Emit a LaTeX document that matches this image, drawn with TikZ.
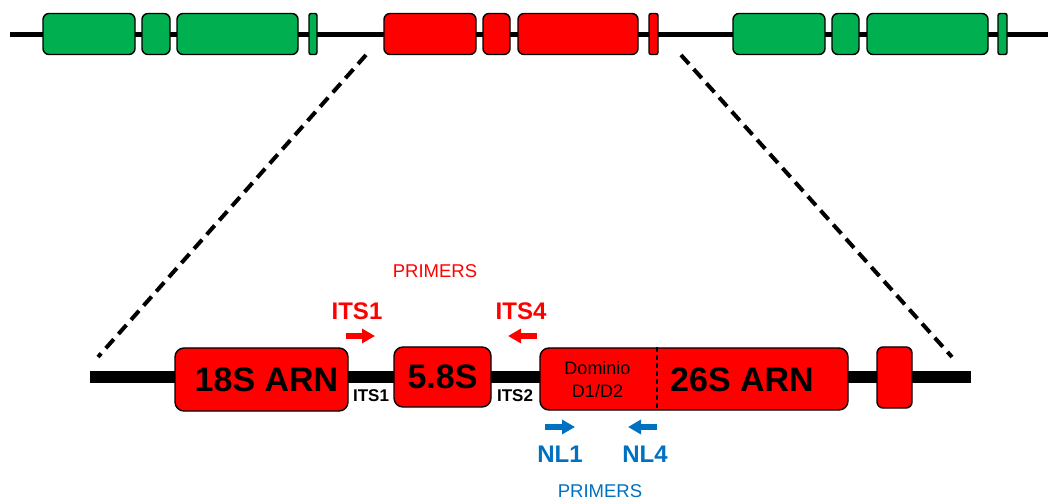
\documentclass[tikz,border=0pt]{standalone}
\usepackage{fontspec}
\setmainfont{Liberation Sans}
\usepackage{xcolor}
\usepackage{tikz}
\usetikzlibrary{arrows.meta}

\definecolor{exongreen}{RGB}{0,176,80}
\definecolor{primblue}{RGB}{0,112,192}

\tikzset{
  gblock/.style={draw=black, line width=1.4pt, fill=exongreen, rounded corners=6pt, inner sep=0pt},
  rblock/.style={draw=black, line width=1.4pt, fill=red, rounded corners=6pt, inner sep=0pt},
  bigbox/.style={draw=black, line width=1.4pt, fill=red, rounded corners=9pt, inner sep=0pt,
    font=\fontsize{34}{38}\bfseries\selectfont},
  primer/.style={line width=6pt, -{Triangle[length=13pt,width=14pt]}},
}

\begin{document}
\begin{tikzpicture}[x=1pt, y=-1pt, every node/.style={inner sep=1.5pt}]
  \useasboundingbox (0,0) rectangle (1049,502);
  % upper chromosome
  \coordinate (tL) at (10,35);
  \coordinate (tR) at (1048,35);
  \draw[line width=5pt] (tL) -- (tR);
  \node[gblock, minimum width=92pt, minimum height=41pt] (g1) at (89,34) {};
  \node[gblock, minimum width=28pt, minimum height=41pt] (g2) at (156,34) {};
  \node[gblock, minimum width=121pt, minimum height=41pt] (g3) at (237.5,34) {};
  \node[gblock, minimum width=8pt, minimum height=41pt, rounded corners=2pt] (g4) at (313,34) {};
  \node[rblock, minimum width=92pt, minimum height=41pt] (r1) at (430,34) {};
  \node[rblock, minimum width=27pt, minimum height=41pt] (r2) at (496.5,34) {};
  \node[rblock, minimum width=120pt, minimum height=41pt] (r3) at (578,34) {};
  \node[rblock, minimum width=9pt, minimum height=41pt, rounded corners=2pt] (r4) at (653.5,34) {};
  \node[gblock, minimum width=92pt, minimum height=41pt] (g5) at (779,34) {};
  \node[gblock, minimum width=27pt, minimum height=41pt] (g6) at (845.5,34) {};
  \node[gblock, minimum width=121pt, minimum height=41pt] (g7) at (927.5,34) {};
  \node[gblock, minimum width=9pt, minimum height=41pt, rounded corners=2pt] (g8) at (1002.5,34) {};
  % zoom lines
  \coordinate (zL) at (366,55);
  \coordinate (zLb) at (98,357);
  \coordinate (zR) at (681,55);
  \coordinate (zRb) at (952,357);
  \draw[line width=4pt, dash pattern=on 12pt off 7pt] (zL) -- (zLb);
  \draw[line width=4pt, dash pattern=on 12pt off 7pt] (zR) -- (zRb);
  % rDNA unit
  \coordinate (bL) at (90,377);
  \coordinate (bR) at (971,377);
  \draw[line width=12pt] (bL) -- (bR);
  \node[bigbox, minimum width=173pt, minimum height=63pt] (s18) at (261.5,379.5) {\hspace{10pt}18S ARN};
  \node[bigbox, minimum width=97pt, minimum height=60pt] (s58) at (442.5,377) {5.8S};
  \node[bigbox, minimum width=308pt, minimum height=62pt] (s26) at (694,379) {};
  \draw[line width=1.7pt, dash pattern=on 5pt off 3pt] (s26.north) ++(-37pt,0) coordinate (dT) -- (dT |- s26.south);
  \node[font=\fontsize{34}{38}\bfseries\selectfont] (t26) at (742,380) {26S ARN};
  \node[font=\fontsize{18}{23}\selectfont, align=center] (dom) at (597.5,380) {Dominio\\D1/D2};
  \node[rblock, minimum width=35pt, minimum height=61pt] (s5) at (894.5,377.5) {};
  \node[font=\fontsize{17}{20}\bfseries\selectfont] (its1) at (371,396) {ITS1};
  \node[font=\fontsize{17}{20}\bfseries\selectfont] (its2) at (515,396) {ITS2};
  % primers ITS
  \node[text=red, font=\fontsize{18.5}{22}\selectfont] (prR) at (435,271) {PRIMERS};
  \node[text=red, font=\fontsize{24}{28}\bfseries\selectfont] (pITS1) at (357,311) {ITS1};
  \node[text=red, font=\fontsize{24}{28}\bfseries\selectfont] (pITS4) at (521,311) {ITS4};
  \coordinate (a1s) at (346,336);
  \coordinate (a1e) at (375,336);
  \coordinate (a4s) at (537,336);
  \coordinate (a4e) at (508,336);
  \draw[primer, red] (a1s) -- (a1e);
  \draw[primer, red] (a4s) -- (a4e);
  % primers NL
  \coordinate (n1s) at (545,427);
  \coordinate (n1e) at (575,427);
  \coordinate (n4s) at (657,427);
  \coordinate (n4e) at (628,427);
  \draw[primer, primblue] (n1s) -- (n1e);
  \draw[primer, primblue] (n4s) -- (n4e);
  \node[text=primblue, font=\fontsize{24}{28}\bfseries\selectfont] (pNL1) at (560,454) {NL1};
  \node[text=primblue, font=\fontsize{24}{28}\bfseries\selectfont] (pNL4) at (645,454) {NL4};
  \node[text=primblue, font=\fontsize{18.5}{22}\selectfont] (prB) at (600,491) {PRIMERS};
\end{tikzpicture}
\end{document}
